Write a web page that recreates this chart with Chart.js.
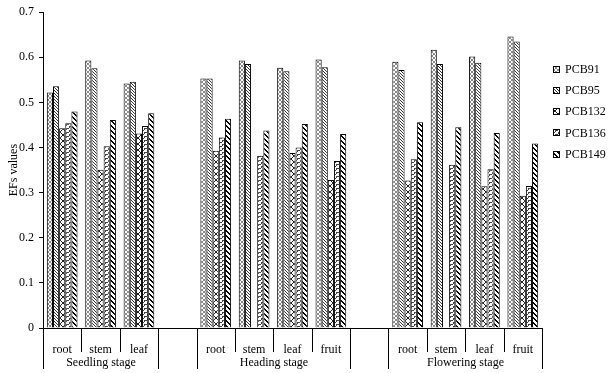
<!DOCTYPE html>
<html>
<head>
<meta charset="utf-8">
<script src="https://cdn.jsdelivr.net/npm/chart.js@4.4.1/dist/chart.umd.min.js"></script>
<style>
  html, body { margin: 0; padding: 0; background: #fff; }
  #wrap { width: 609px; height: 373px; position: relative; }
</style>
</head>
<body>
<div id="wrap"><canvas id="efChart"></canvas></div>
<script>
// categories along the x axis ('' = empty slot between stages)
const categories = ['root', 'stem', 'leaf', '', 'root', 'stem', 'leaf', 'fruit', '', 'root', 'stem', 'leaf', 'fruit'];
const stageNames = ['Seedling stage', 'Heading stage', 'Flowering stage'];
const stageSpans = [[0, 2], [4, 7], [9, 12]]; // category index ranges
const yTicks = [0, 0.1, 0.2, 0.3, 0.4, 0.5, 0.6, 0.7];

// EFs values (null = no bar)
const pcb91  = [0.522, 0.593, 0.542, null, 0.553, 0.593, 0.577, 0.595, null, 0.590, 0.617, 0.602, 0.646];
const pcb95  = [0.536, 0.576, 0.546, null, 0.553, 0.585, 0.569, 0.578, null, 0.572, 0.585, 0.588, 0.635];
const pcb132 = [0.443, 0.351, 0.431, null, 0.393, null, 0.388, 0.328, null, 0.327, null, 0.314, 0.293];
const pcb136 = [0.454, 0.403, 0.448, null, 0.422, 0.382, 0.400, 0.370, null, 0.374, 0.362, 0.352, 0.315];
const pcb149 = [0.480, 0.461, 0.476, null, 0.464, 0.438, 0.452, 0.430, null, 0.456, 0.445, 0.432, 0.409];

const FONT = "'Liberation Serif', 'Times New Roman', serif";

// small tile -> CanvasPattern, drawn pixel by pixel so it stays crisp
function makePattern(w, h, draw) {
    const c = document.createElement('canvas');
    c.width = w; c.height = h;
    const g = c.getContext('2d');
    g.fillStyle = '#fff';
    g.fillRect(0, 0, w, h);
    draw(g, w, h);
    return g.createPattern(c, 'repeat');
}

const patterns = {
    // fine light cross-hatch
    pcb91: makePattern(4, 4, (g) => {
        g.fillStyle = '#8a8a8a';
        for (let i = 0; i < 4; i++) {
            g.fillRect(i, i, 1, 1);
            g.fillRect(3 - i, i, 1, 1);
        }
    }),
    // dense back-diagonal, darker
    pcb95: makePattern(3, 3, (g) => {
        g.fillStyle = '#3a3a3a';
        for (let i = 0; i < 3; i++) g.fillRect(i, i, 1, 1);
    }),
    // open diagonal cross-hatch
    pcb132: makePattern(6, 6, (g) => {
        g.fillStyle = '#222';
        for (let i = 0; i < 6; i++) {
            g.fillRect(i, i, 1, 1);
            g.fillRect(5 - i, i, 1, 1);
        }
    }),
    // staggered little dashes
    pcb136: makePattern(6, 4, (g) => {
        g.fillStyle = '#444';
        g.fillRect(0, 0, 3, 1);
        g.fillRect(3, 2, 3, 1);
        g.fillRect(0, 1, 1, 1);
        g.fillRect(3, 3, 1, 1);
    }),
    // bold back-diagonal stripes
    pcb149: makePattern(5, 5, (g) => {
        g.fillStyle = '#000';
        for (let i = 0; i < 5; i++) {
            g.fillRect(i, i, 2, 1);
            if (i === 4) g.fillRect(0, 4, 1, 1);
        }
    })
};

const seriesNames = ['PCB91', 'PCB95', 'PCB132', 'PCB136', 'PCB149'];
const seriesData = [pcb91, pcb95, pcb132, pcb136, pcb149];
const seriesFill = [patterns.pcb91, patterns.pcb95, patterns.pcb132, patterns.pcb136, patterns.pcb149];

// stage separators + stage names under the x axis, plus the side legend
const stageAxisPlugin = {
    id: 'stageAxis',
    afterDraw(chart) {
        const ctx = chart.ctx;
        const x = chart.scales.x;
        const area = chart.chartArea;
        const slot = x.width / categories.length;
        ctx.save();
        ctx.strokeStyle = '#000';
        ctx.lineWidth = 1;
        ctx.fillStyle = '#000';
        ctx.font = '12px ' + FONT;
        ctx.textAlign = 'center';
        ctx.textBaseline = 'middle';
        stageSpans.forEach(([from, to], i) => {
            const xl = Math.round(x.getPixelForValue(from) - slot / 2) + 0.5;
            const xr = Math.round(x.getPixelForValue(to) + slot / 2) + 0.5;
            ctx.beginPath();
            ctx.moveTo(xl, area.bottom); ctx.lineTo(xl, area.bottom + 41);
            ctx.moveTo(xr, area.bottom); ctx.lineTo(xr, area.bottom + 41);
            for (let k = from; k < to; k++) {
                const xs = Math.round(x.getPixelForValue(k) + slot / 2) + 0.5;
                ctx.moveTo(xs, area.bottom); ctx.lineTo(xs, area.bottom + 24);
            }
            ctx.stroke();
            ctx.fillText(stageNames[i], (xl + xr) / 2, area.bottom + 35);
        });

        // legend
        ctx.textAlign = 'left';
        chart.data.datasets.forEach((ds, i) => {
            const bx = 553, cy = 69 + i * 21.3;
            const by = Math.round(cy - 3.5);
            ctx.fillStyle = ds.backgroundColor;
            ctx.fillRect(bx, by, 7, 7);
            ctx.strokeRect(bx + 0.5, by + 0.5, 6, 6);
            ctx.fillStyle = '#000';
            ctx.fillText(ds.label, bx + 12, cy + 0.5);
        });
        ctx.restore();
    }
};

const ctx = document.getElementById('efChart').getContext('2d');
new Chart(ctx, {
    type: 'bar',
    data: {
        labels: categories,
        datasets: seriesNames.map((name, i) => ({
            label: name,
            data: seriesData[i],
            backgroundColor: seriesFill[i],
            borderColor: '#000',
            borderWidth: 1,
            borderSkipped: 'bottom',
            categoryPercentage: 0.8,
            barPercentage: 1.0
        }))
    },
    options: {
        responsive: true,
        maintainAspectRatio: false,
        animation: false,
        devicePixelRatio: 1,
        layout: { padding: { top: 8, right: 67, left: 0, bottom: 0 } },
        plugins: {
            legend: { display: false },
            tooltip: { enabled: false }
        },
        scales: {
            x: {
                grid: { display: false },
                border: { display: true, color: '#000', width: 1 },
                ticks: {
                    color: '#000',
                    font: { family: FONT, size: 12 },
                    padding: 7,
                    maxRotation: 0,
                    autoSkip: false
                },
                afterFit(scale) { scale.height = 45; }
            },
            y: {
                min: 0,
                max: 0.7,
                afterBuildTicks(scale) { scale.ticks = yTicks.map(v => ({ value: v })); },
                grid: { drawOnChartArea: false, tickLength: 4, color: '#000' },
                border: { display: true, color: '#000', width: 1 },
                ticks: {
                    color: '#000',
                    font: { family: FONT, size: 12 },
                    padding: 5,
                    callback: (v) => (v === 0 ? '0' : v.toFixed(1))
                },
                title: {
                    display: true,
                    text: 'EFs values',
                    color: '#000',
                    font: { family: FONT, size: 12 },
                    padding: { top: 7, bottom: 2 }
                },
                afterFit(scale) { scale.width = 43; }
            }
        }
    },
    plugins: [stageAxisPlugin]
});
</script>
</body>
</html>
